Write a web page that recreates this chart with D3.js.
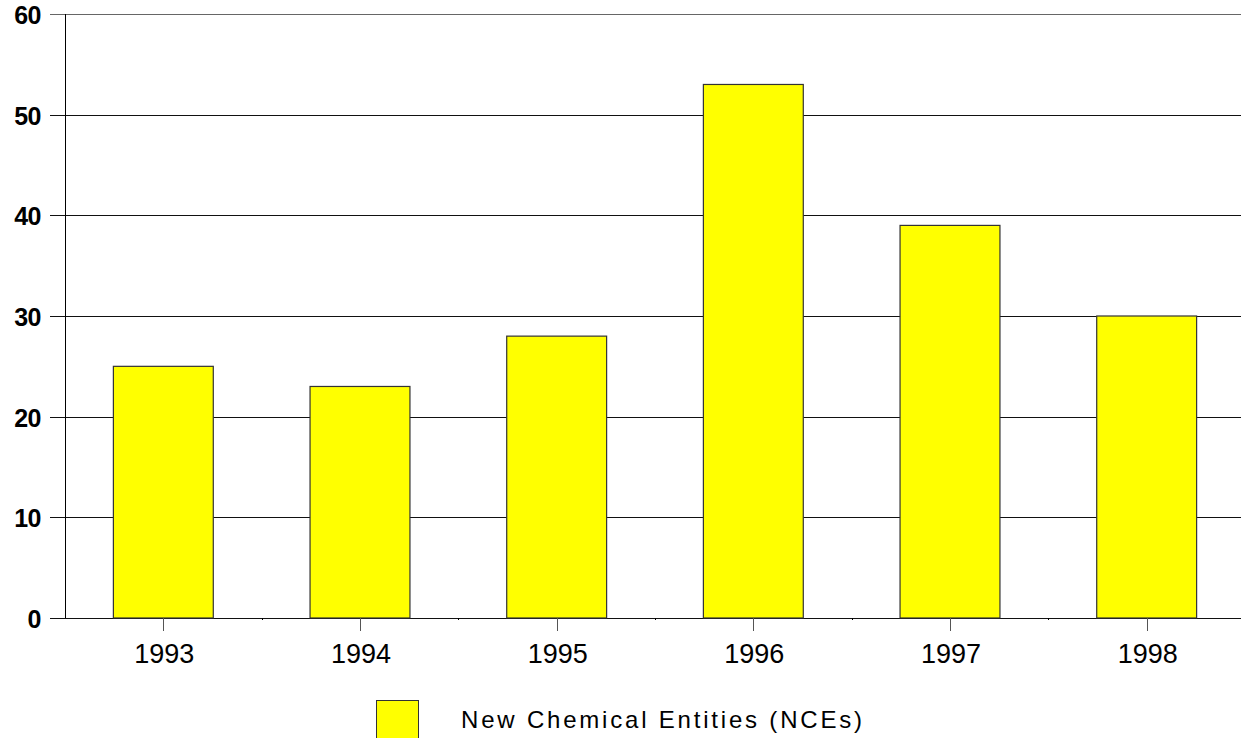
<!DOCTYPE html>
<html>
<head>
<meta charset="utf-8">
<script src="https://cdn.jsdelivr.net/npm/d3@7"></script>
<style>
  body { margin: 0; background: #fff; }
  text { font-family: Arial, "Liberation Sans", sans-serif; fill: #000; }
</style>
</head>
<body>
<script>
// chart data
var years = ["1993", "1994", "1995", "1996", "1997", "1998"];
var nces = [25, 23, 28, 53, 39, 30];
var yTicks = [0, 10, 20, 30, 40, 50, 60];
var seriesName = "New Chemical Entities (NCEs)";

var W = 1241, H = 738;
var m = {left: 65, right: 1245, top: 14, bottom: 618};

var svg = d3.select("body").append("svg")
    .attr("width", W)
    .attr("height", H);

var x = d3.scaleBand().domain(years).range([m.left, m.right]).paddingInner(0).paddingOuter(0);
var y = d3.scaleLinear().domain([0, 60]).range([m.bottom, m.top]);

// gridlines (extend slightly left of the axis like ticks)
svg.append("g")
    .selectAll("line")
    .data(yTicks)
    .join("line")
    .attr("x1", m.left - 15)
    .attr("x2", W)
    .attr("y1", function(d) { return Math.round(y(d)) + 0.5; })
    .attr("y2", function(d) { return Math.round(y(d)) + 0.5; })
    .attr("stroke", function(d) { return d === 60 ? "#666" : "#111"; })
    .attr("stroke-width", 1.2);

// y axis line
svg.append("line")
    .attr("x1", m.left + 0.5).attr("x2", m.left + 0.5)
    .attr("y1", m.top).attr("y2", m.bottom)
    .attr("stroke", "#000");

// y labels
svg.append("g")
    .selectAll("text")
    .data(yTicks)
    .join("text")
    .attr("x", 41)
    .attr("y", function(d) { return y(d) + 10; })
    .attr("text-anchor", "end")
    .style("font-size", "25px")
    .style("font-weight", "bold")
    .style("letter-spacing", "-0.5px")
    .text(function(d) { return d; });

// bars
var bw = x.bandwidth() * 0.508;
svg.append("g")
    .selectAll("rect")
    .data(nces)
    .join("rect")
    .attr("x", function(d, i) { return x(years[i]) + x.bandwidth() / 2 - bw / 2; })
    .attr("y", function(d) { return y(d); })
    .attr("width", bw)
    .attr("height", function(d) { return y(0) - y(d); })
    .attr("fill", "#ffff00")
    .attr("stroke", "#333")
    .attr("stroke-width", 1.2);

// x ticks at category centers
svg.append("g")
    .selectAll("line")
    .data(years)
    .join("line")
    .attr("x1", function(d) { return Math.round(x(d) + x.bandwidth() / 2) + 0.5; })
    .attr("x2", function(d) { return Math.round(x(d) + x.bandwidth() / 2) + 0.5; })
    .attr("y1", m.bottom)
    .attr("y2", m.bottom + 13)
    .attr("stroke", "#555");

// small marks at category boundaries
svg.append("g")
    .selectAll("line")
    .data(years.slice(1))
    .join("line")
    .attr("x1", function(d) { return Math.round(x(d)) + 0.5; })
    .attr("x2", function(d) { return Math.round(x(d)) + 0.5; })
    .attr("y1", m.bottom)
    .attr("y2", m.bottom + 2)
    .attr("stroke", "#000");

// x labels
svg.append("g")
    .selectAll("text")
    .data(years)
    .join("text")
    .attr("x", function(d) { return x(d) + x.bandwidth() / 2 + 1; })
    .attr("y", 663)
    .attr("text-anchor", "middle")
    .style("font-size", "27px")
    .text(function(d) { return d; });

// legend
svg.append("rect")
    .attr("x", 376.5).attr("y", 700.5)
    .attr("width", 42).attr("height", 38)
    .attr("fill", "#ffff00")
    .attr("stroke", "#333");

svg.append("text")
    .attr("x", 461)
    .attr("y", 728)
    .style("font-size", "24px")
    .style("letter-spacing", "2.8px")
    .text(seriesName);
</script>
</body>
</html>
